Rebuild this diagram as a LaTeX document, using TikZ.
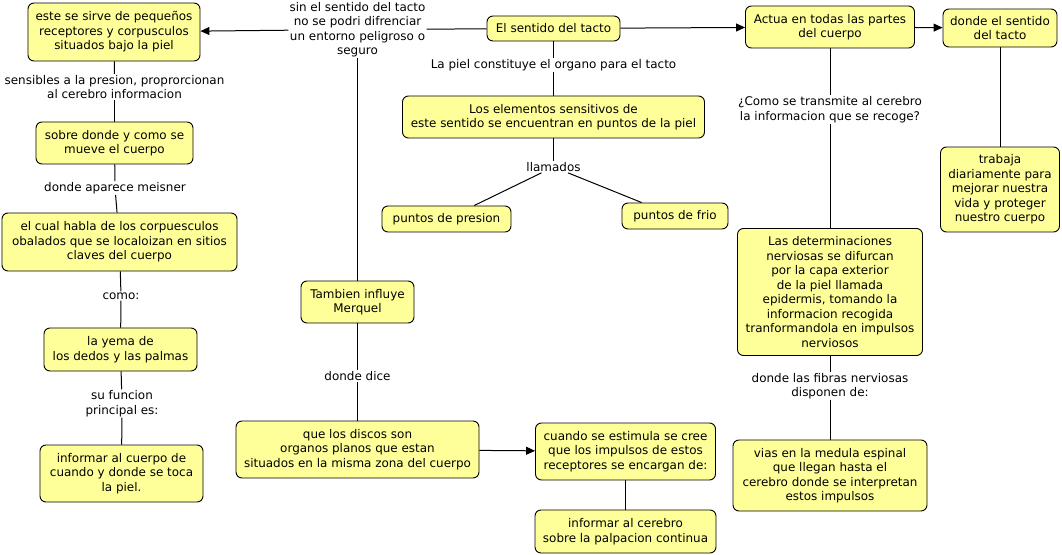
\documentclass[tikz,border=0pt]{standalone}
\usepackage{fontspec}
\setmainfont{DejaVu Sans}
\usetikzlibrary{arrows.meta}
\definecolor{boxfill}{HTML}{FFFF99}
\tikzset{
  box/.style={draw=black, line width=0.9bp, fill=boxfill, rounded corners=6bp, align=center, inner sep=1bp, font=\fontsize{12}{14.5}\selectfont},
  lbl/.style={align=center, inner sep=1bp, font=\fontsize{12}{14.5}\selectfont},
  conn/.style={draw=black, line width=1bp},
  arr/.style={conn, -{Triangle[length=9bp,width=8bp]}}
}
\begin{document}
\begin{tikzpicture}[x=1bp,y=-1bp]
\useasboundingbox (0,0) rectangle (1062,555);
% concepts
\node[box, minimum width=172bp, minimum height=58bp] (n1) at (114,32) {este se sirve de pequeños\\receptores y corpusculos\\situados bajo la piel};
\node[box, minimum width=133bp, minimum height=25bp] (n3) at (553.5,28.5) {El sentido del tacto};
\node[box, minimum width=169bp, minimum height=42bp] (n4) at (830,27) {Actua en todas las partes\\del cuerpo};
\node[box, minimum width=114bp, minimum height=38bp] (n5) at (1000,28) {donde el sentido\\del tacto};
\node[box, minimum width=302bp, minimum height=42bp] (n7) at (553.5,117) {Los elementos sensitivos de\\este sentido se encuentran en puntos de la piel};
\node[box, minimum width=129bp, minimum height=26bp] (n9) at (446.5,219) {puntos de presion};
\node[box, minimum width=106bp, minimum height=26bp] (n10) at (675,216) {puntos de frio};
\node[box, minimum width=157bp, minimum height=42bp] (n12) at (114.5,143) {sobre donde y como se\\mueve el cuerpo};
\node[box, minimum width=235bp, minimum height=58bp] (n14) at (119.5,242) {el cual habla de los corpuesculos\\obalados que se localoizan en sitios\\claves del cuerpo};
\node[box, minimum width=153bp, minimum height=43bp] (n16) at (120.5,349.5) {la yema de\\los dedos y las palmas};
\node[box, minimum width=163bp, minimum height=57bp] (n18) at (121.5,473.5) {informar al cuerpo de\\cuando y donde se toca\\la piel.};
\node[box, minimum width=113bp, minimum height=42bp] (n19) at (357.5,302) {Tambien influye\\Merquel};
\node[box, minimum width=243bp, minimum height=57bp] (n21) at (357.5,449.5) {que los discos son\\organos planos que estan\\situados en la misma zona del cuerpo};
\node[box, minimum width=180bp, minimum height=57bp] (n22) at (625.5,451.5) {cuando se estimula se cree\\que los impulsos de estos\\receptores se encargan de:};
\node[box, minimum width=181bp, minimum height=43bp] (n23) at (625.5,531.5) {informar al cerebro\\sobre la palpacion continua};
\node[box, minimum width=185bp, minimum height=127bp] (n25) at (830,292) {Las determinaciones\\nerviosas se difurcan\\por la capa exterior\\de la piel llamada\\epidermis, tomando la\\informacion recogida\\tranformandola en impulsos\\nerviosos};
\node[box, minimum width=194bp, minimum height=71bp] (n27) at (830,475.5) {vias en la medula espinal\\que llegan hasta el\\cerebro donde se interpretan\\estos impulsos};
\node[box, minimum width=119bp, minimum height=85bp] (n28) at (1000,189.5) {trabaja\\diariamente para\\mejorar nuestra\\vida y proteger\\nuestro cuerpo};
% linking phrases
\node[lbl] (l2) at (357.5,29.5) {sin el sentido del tacto\\no se podri difrenciar\\un entorno peligroso o\\seguro};
\node[lbl] (l6) at (553.5,65) {La piel constituye el organo para el tacto};
\node[lbl] (l8) at (553.5,167) {llamados};
\node[lbl] (l11) at (114.5,87) {sensibles a la presion, proprorcionan\\al cerebro informacion};
\node[lbl] (l13) at (115,188) {donde aparece meisner};
\node[lbl] (l15) at (121,296) {como:};
\node[lbl] (l17) at (122,403.5) {su funcion\\principal es:};
\node[lbl] (l20) at (357.5,376) {donde dice};
\node[lbl] (l24) at (830,109.5) {¿Como se transmite al cerebro\\la informacion que se recoge?};
\node[lbl] (l26) at (830,386) {donde las fibras nerviosas\\disponen de:};
% connectors
\draw[conn] (n3) -- (l2);
\draw[arr] (l2) -- (n1);
\draw[conn] (l2) -- (n19);
\draw[arr] (n3) -- (n4);
\draw[arr] (n4) -- (n5);
\draw[conn] (n3) -- (l6);
\draw[conn] (l6) -- (n7);
\draw[conn] (n7) -- (l8);
\draw[conn] (l8) -- (n9);
\draw[conn] (l8) -- (n10);
\draw[conn] (n1) -- (l11);
\draw[conn] (l11) -- (n12);
\draw[conn] (n12) -- (l13);
\draw[conn] (l13) -- (n14);
\draw[conn] (n14) -- (l15);
\draw[conn] (l15) -- (n16);
\draw[conn] (n16) -- (l17);
\draw[conn] (l17) -- (n18);
\draw[conn] (n19) -- (l20);
\draw[conn] (l20) -- (n21);
\draw[arr] (n21) -- (n22);
\draw[conn] (n22) -- (n23);
\draw[conn] (n4) -- (l24);
\draw[conn] (l24) -- (n25);
\draw[conn] (n25) -- (l26);
\draw[conn] (l26) -- (n27);
\draw[conn] (n5) -- (n28);
\end{tikzpicture}
\end{document}
